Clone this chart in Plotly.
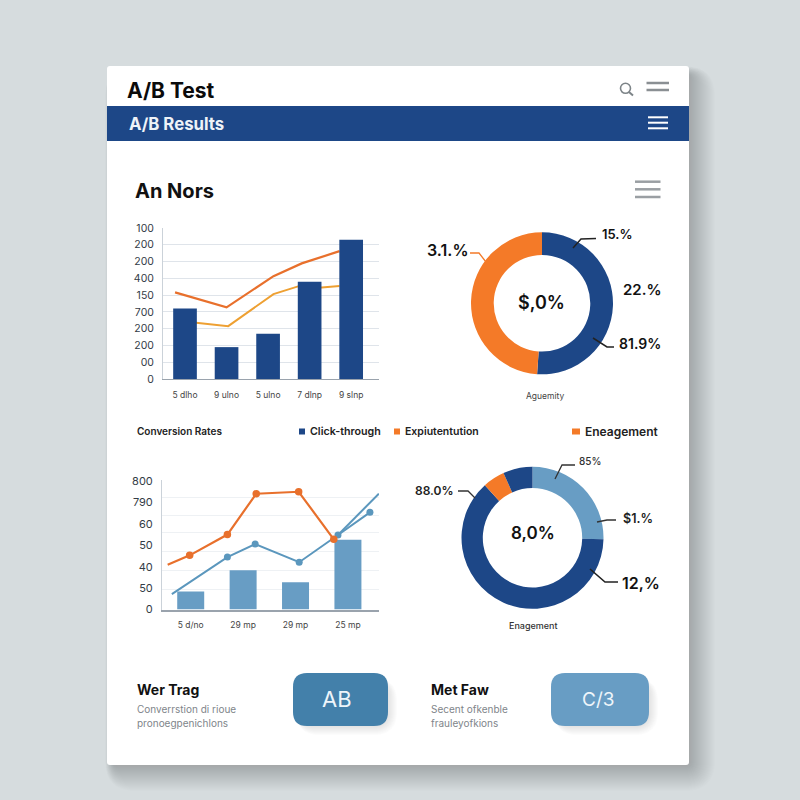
import plotly.graph_objects as go

# ---------- data ----------
y1_labels = ["0", "00", "200", "200", "700", "150", "400", "200", "200", "100"]
x1_labels = ["5 dlho", "9 ulno", "5 ulno", "7 dlnp", "9 slnp"]
bar1_vals = [4.2, 1.9, 2.7, 5.8, 8.3]
line1a_x = [-0.24, 1.0, 2.13, 2.81, 3.72]
line1a_y = [5.16, 4.27, 6.13, 6.89, 7.62]
line1b_x = [0.1, 1.04, 2.13, 2.72, 3.29, 3.72]
line1b_y = [3.4, 3.15, 5.06, 5.52, 5.46, 5.55]

y2_labels = ["0", "50", "40", "50", "60", "790", "800"]
x2_labels = ["5 d/no", "29 mp", "29 mp", "25 mp"]
bar2_vals = [0.84, 1.83, 1.27, 3.26]
grid2_vals = [0.93, 1.82, 2.69, 3.58, 4.41, 5.25, 6.07]
line2a_x = [-0.44, -0.02, 0.70, 1.25, 2.06, 2.73]
line2a_y = [2.09, 2.53, 3.50, 5.41, 5.50, 3.28]
line2b_x = [-0.36, 0.70, 1.23, 2.07, 2.81, 3.42]
line2b_y = [0.72, 2.45, 3.06, 2.21, 3.48, 4.54]
line2c_x = [2.81, 3.59]
line2c_y = [3.48, 5.41]

donut1_labels = ["Click-through", "Engagement"]
donut1_vals = [51.1, 48.9]
donut2_labels = ["A", "B", "C", "D"]
donut2_vals = [25.3, 63.0, 5.0, 6.7]

NAVY = "#1d4787"
ORANGE = "#f47a28"
RED_OR = "#e8702c"
AMBER = "#eea032"
LIGHT = "#689dc4"
MIDBLUE = "#5b97bd"
FONT = "Inter"
W = H = 800


def X(p):
    return p / W


def Y(p):
    return 1 - p / H


def rrect(x0, y0, x1, y1, r):
    a, b, c, d = X(x0), Y(y0), X(x1), Y(y1)
    rx, ry = r / W, r / H
    return (f"M {a+rx} {b} L {c-rx} {b} Q {c} {b} {c} {b-ry} L {c} {d+ry} Q {c} {d} {c-rx} {d} "
            f"L {a+rx} {d} Q {a} {d} {a} {d+ry} L {a} {b-ry} Q {a} {b} {a+rx} {b} Z")


shapes = []
annotations = []


def rect(x0, y0, x1, y1, color, r=0, opacity=1.0, layer="below"):
    shapes.append(dict(type="path", xref="paper", yref="paper", path=rrect(x0, y0, x1, y1, r),
                       fillcolor=color, line=dict(width=0), opacity=opacity, layer=layer))


def poly(points, color, width=1.5, layer="above"):
    d = "M " + " L ".join(f"{X(a)} {Y(b)}" for a, b in points)
    shapes.append(dict(type="path", xref="paper", yref="paper", path=d,
                       line=dict(color=color, width=width), layer=layer))


def text(x, y, s, size, color="#111111", weight="normal", anchor="left"):
    annotations.append(dict(xref="paper", yref="paper", x=X(x), y=Y(y), text=s, showarrow=False,
                            xanchor=anchor, yanchor="middle", borderpad=0, borderwidth=0,
                            font=dict(family=FONT, size=size, color=color, weight=weight)))


def shadow(x0, y0, x1, y1, r, spread, alpha):
    for i in range(spread, 0, -1):
        rect(x0 + 6 - i * 0.3, y0 + 8 - i * 0.3, x1 + i, y1 + i, "#5a6468", r + i, alpha)


# ---------- card ----------
shadow(107, 66, 689, 765, 4, 26, 0.010)
rect(107, 66, 689, 765, "#ffffff", 3)
rect(107, 106, 689, 141, NAVY)
text(127, 90, "A/B Test", 21, "#0b0b0b", "bold")
text(129, 124, "A/B Results", 16.8, "#eef3f8", "bold")
text(135, 191, "An Nors", 20, "#111111", "bold")

for yy in (117.3, 122.7, 128.3):
    poly([(648, yy), (668, yy)], "#ffffff", 2)
for yy in (83, 90):
    poly([(646.5, yy), (669, yy)], "#8a8f93", 2.5)
for yy in (181.7, 189.3, 197):
    poly([(635, yy), (660.5, yy)], "#9a9fa3", 2.5)
shapes.append(dict(type="circle", xref="paper", yref="paper", x0=X(620.5), x1=X(630.5), y0=Y(93.3), y1=Y(83.3),
                   line=dict(color="#7d8488", width=1.6), layer="above"))
poly([(629, 92), (633, 95.5)], "#7d8488", 2)

# ---------- legend row ----------
text(137, 431, "Conversion Rates", 10, "#222222", 600)
legend_x = [299, 394, 572]
legend_w = [6, 6, 8]
legend_colors = [NAVY, ORANGE, ORANGE]
legend_text = ["Click-through", "Expiutentution", "Eneagement"]
legend_size = [10.7, 10.5, 12]
for lx, lw, lc, lt, ls in zip(legend_x, legend_w, legend_colors, legend_text, legend_size):
    rect(lx, 428.5, lx + lw, 434.5, lc, 0, layer="above")
    text(lx + lw + 5, 431.5, lt, ls, "#222222", 600)

# ---------- donut labels ----------
text(545, 396, "Aguemity", 8.5, "#444444", anchor="center")
text(541, 303, "$,0%", 18, "#111111", 600, "center")
text(447, 250, "3.1.%", 16, "#111111", 600, "center")
text(617, 234, "15.%", 13, "#111111", 600, "center")
text(642, 289, "22.%", 15, "#111111", 600, "center")
text(640, 344, "81.9%", 14, "#111111", 600, "center")
poly([(573, 248), (581, 239), (596, 238.5)], "#222222", 1.5)
poly([(470, 253), (479, 253), (486, 262)], ORANGE, 1.3)
poly([(593, 338), (607, 347), (614, 347)], "#222222", 1.5)

text(533, 625, "Enagement", 9, "#333333", 500, "center")
text(533, 533, "8,0%", 17, "#111111", 600, "center")
text(434, 490, "88.0%", 12, "#222222", 600, "center")
text(590, 461, "85%", 10, "#333333", 500, "center")
text(638, 518, "$1.%", 12.5, "#222222", 600, "center")
text(641, 583, "12,%", 16, "#111111", 600, "center")
poly([(555, 479), (562, 465), (575, 465)], "#333333", 1.3)
poly([(597, 522), (607, 520), (616, 520)], "#333333", 1.3)
poly([(590, 569), (605, 582), (618, 582)], "#222222", 1.6)
poly([(458, 491), (468, 491), (475, 498)], "#333333", 1.3)

# ---------- bottom tiles ----------
text(137, 689, "Wer Trag", 14, "#111111", "bold")
text(137, 709, "Converrstion di rioue", 10, "#80858a")
text(137, 723, "pronoegpenichlons", 10, "#80858a")
text(431, 689, "Met Faw", 14, "#111111", "bold")
text(431, 709, "Secent ofkenble", 10, "#80858a")
text(431, 723, "frauleyofkions", 10, "#80858a")
shadow(293, 673, 388, 726, 14, 9, 0.02)
shadow(551, 673, 649, 726, 14, 9, 0.02)
rect(293, 673, 388, 726, "#4380aa", 14)
rect(551, 673, 649, 726, "#689dc4", 14)
text(337, 699, "AB", 22, "#eef5fa", "normal", "center")
text(598, 699, "C/3", 19, "#eef5fa", "normal", "center")

# ---------- traces ----------
fig = go.Figure()
fig.add_trace(go.Scatter(x=line1a_x, y=line1a_y, mode="lines", line=dict(color=RED_OR, width=2.2), xaxis="x", yaxis="y"))
fig.add_trace(go.Scatter(x=line1b_x, y=line1b_y, mode="lines", line=dict(color=AMBER, width=2), xaxis="x", yaxis="y"))
fig.add_trace(go.Bar(x=list(range(len(bar1_vals))), y=bar1_vals, width=0.57, marker=dict(color=NAVY, line=dict(width=0)),
                     xaxis="x2", yaxis="y2"))
fig.add_trace(go.Bar(x=list(range(len(bar2_vals))), y=bar2_vals, width=0.515, marker=dict(color=LIGHT, line=dict(width=0)),
                     xaxis="x3", yaxis="y3"))
fig.add_trace(go.Scatter(x=line2c_x, y=line2c_y, mode="lines", line=dict(color=MIDBLUE, width=2), xaxis="x3", yaxis="y3"))
fig.add_trace(go.Scatter(x=line2b_x, y=line2b_y, mode="lines", line=dict(color=MIDBLUE, width=2), xaxis="x3", yaxis="y3"))
fig.add_trace(go.Scatter(x=line2b_x[1:], y=line2b_y[1:], mode="markers", marker=dict(color=MIDBLUE, size=7), xaxis="x3", yaxis="y3"))
fig.add_trace(go.Scatter(x=line2a_x, y=line2a_y, mode="lines", line=dict(color=RED_OR, width=2.2), xaxis="x3", yaxis="y3"))
fig.add_trace(go.Scatter(x=line2a_x[1:], y=line2a_y[1:], mode="markers", marker=dict(color=RED_OR, size=7.5), xaxis="x3", yaxis="y3"))


def donut(labels, vals, colors, cx, cy, r, hole):
    fig.add_trace(go.Pie(labels=labels, values=vals, hole=hole, sort=False, direction="clockwise", rotation=0,
                         marker=dict(colors=colors, line=dict(width=0)), textinfo="none", showlegend=False,
                         domain=dict(x=[X(cx - r), X(cx + r)], y=[Y(cy + r), Y(cy - r)])))


donut(donut1_labels, donut1_vals, [NAVY, ORANGE], 542, 303.3, 71, 0.68)
donut(donut2_labels, donut2_vals, [LIGHT, NAVY, ORANGE, NAVY], 532.5, 537.8, 71, 0.70)

tick_font = dict(family=FONT, size=10.5, color="#333c46")
x_font = dict(family=FONT, size=8.5, color="#444444")
dx1 = [X(163), X(379)]
dy1 = [Y(379), Y(228)]
rx1 = [-0.53, 4.67]
ry1 = [0, 9]
dx3 = [X(162), X(379)]
dy3 = [Y(609.5), Y(480)]

fig.update_layout(
    width=W, height=H, margin=dict(l=0, r=0, t=0, b=0, pad=0, autoexpand=False), showlegend=False,
    paper_bgcolor="#d6dcde", plot_bgcolor="rgba(0,0,0,0)",
    shapes=shapes, annotations=annotations,
    xaxis=dict(domain=dx1, range=rx1, tickmode="array", tickvals=list(range(5)), ticktext=x1_labels,
               tickfont=x_font, showgrid=False, zeroline=False, showline=True, linecolor="#9aa3ad",
               linewidth=1.2, ticks="", ticklabelstandoff=8),
    yaxis=dict(domain=dy1, range=ry1, tickmode="array", tickvals=list(range(10)), ticktext=y1_labels,
               tickfont=tick_font, showgrid=True, gridcolor="#dfe4ea", gridwidth=1, zeroline=False,
               showline=True, linecolor="#cbd2d9", linewidth=1, ticks="", ticklabelstandoff=6),
    xaxis2=dict(domain=dx1, range=rx1, overlaying="x", visible=False),
    yaxis2=dict(domain=dy1, range=ry1, overlaying="y", visible=False),
    xaxis3=dict(domain=dx3, range=[-0.548, 3.593], anchor="y3", tickmode="array", tickvals=list(range(4)),
                ticktext=x2_labels, tickfont=x_font, showgrid=False, zeroline=False, showline=True,
                linecolor="#9aa3ad", linewidth=1.5, ticks="", ticklabelstandoff=7),
    yaxis3=dict(domain=dy3, range=[0, 6.05], anchor="x3", tickmode="array", tickvals=list(range(7)),
                ticktext=y2_labels, tickfont=dict(family=FONT, size=11, color="#333c46"), showgrid=False,
                zeroline=False, showline=True, linecolor="#cbd2d9", linewidth=1, ticks="", ticklabelstandoff=6,
                minor=dict(tickmode="array", tickvals=grid2_vals, showgrid=True, gridcolor="#eef1f4", gridwidth=1, ticks="")),
)

fig.write_html("out.html", config=dict(displayModeBar=False),
               post_script="document.body.style.margin='0';document.body.style.overflow='hidden';")
